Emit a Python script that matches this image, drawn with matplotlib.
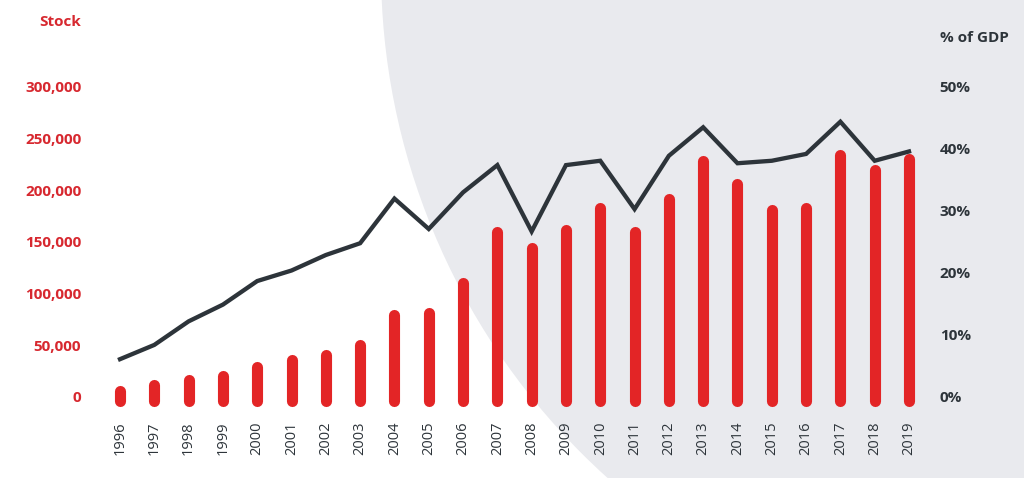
import numpy as np
import matplotlib
matplotlib.use("Agg")
import matplotlib.pyplot as plt
from matplotlib.patches import Circle
from matplotlib.ticker import FuncFormatter

plt.rcParams['font.family'] = ['Open Sans', 'DejaVu Sans']

# data
years = list(range(1996, 2020))
stock = [5700, 11200, 16000, 20500, 28900, 36000, 40200, 49900, 78900, 81500,
         110500, 159400, 144300, 161700, 183000, 159400, 191700, 228000,
         206100, 180700, 183000, 234200, 219800, 230400]
gdp_pct = [6.1, 8.4, 12.2, 14.9, 18.7, 20.4, 22.9, 24.8, 32.0, 27.1,
           33.0, 37.4, 26.7, 37.4, 38.1, 30.3, 38.9, 43.5, 37.7, 38.1,
           39.2, 44.4, 38.1, 39.6]
stock_ticks = [0, 50000, 100000, 150000, 200000, 250000, 300000]
pct_ticks = [0, 10, 20, 30, 40, 50]

RED = '#e32526'
RED_TXT = '#d7282f'
DARK = '#2d343a'
GREY_BG = '#e9eaee'

W, H = 1024, 478
fig = plt.figure(figsize=(W / 100, H / 100), dpi=100)
fig.patch.set_facecolor('white')

# big grey circle in the background
fig.add_artist(Circle((1066 / 100, (H + 31) / 100), 685 / 100,
                      transform=fig.dpi_scale_trans, facecolor=GREY_BG,
                      edgecolor='none', zorder=0))

left_px, right_px, top_px, bot_px = 100, 930, 60, 420
ax = fig.add_axes([left_px / W, 1 - bot_px / H,
                   (right_px - left_px) / W, (bot_px - top_px) / H])
ax.set_facecolor('none')
ax2 = ax.twinx()
ax2.set_facecolor('none')

px_per_year = (909 - 120) / 23
ax.set_xlim(1996 - (120 - left_px) / px_per_year,
            2019 + (right_px - 909) / px_per_year)

val_per_px = 50000 / 51.67
zero_px = 397
ax.set_ylim(-(bot_px - zero_px) * val_per_px, (zero_px - top_px) * val_per_px)
lo, hi = ax.get_ylim()
ax2.set_ylim(lo / 6000, hi / 6000)

# bars start a little under the zero line, as in the original
ax.vlines(years, -4300, stock, color=RED, linewidth=8.0, capstyle='round',
          zorder=2)
ax2.plot(years, gdp_pct, color=DARK, linewidth=3.1, solid_joinstyle='miter',
         zorder=3)

for a in (ax, ax2):
    for s in a.spines.values():
        s.set_visible(False)

ax.set_yticks(stock_ticks)
ax.yaxis.set_major_formatter(FuncFormatter(lambda v, p: f'{int(v):,}'))
ax.tick_params(axis='y', length=0, pad=13.5, labelsize=11, labelcolor=RED_TXT)
for t in ax.get_yticklabels():
    t.set_fontweight('bold')

ax2.set_yticks(pct_ticks)
ax2.yaxis.set_major_formatter(FuncFormatter(lambda v, p: f'{int(v)}%'))
ax2.tick_params(axis='y', length=0, pad=7, labelsize=11, labelcolor=DARK)
for t in ax2.get_yticklabels():
    t.set_fontweight('bold')

ax.set_xticks(years)
ax.set_xticklabels([str(y) for y in years], rotation=90)
ax.tick_params(axis='x', length=0, pad=1, labelsize=10.5, labelcolor=DARK)

fig.text(81 / W, 1 - 22 / H, 'Stock', ha='right', va='center', fontsize=11,
         fontweight='bold', color=RED_TXT)
fig.text(940 / W, 1 - 38 / H, '% of GDP', ha='left', va='center', fontsize=11,
         fontweight='bold', color=DARK)

fig.savefig('out.png', dpi=100, facecolor='white')
